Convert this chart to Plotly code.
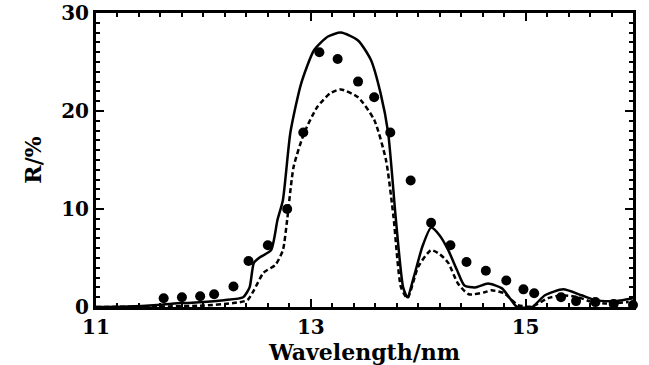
import plotly.graph_objects as go

# Measured points (dots)
dots_x = [11.63, 11.80, 11.97, 12.10, 12.28, 12.42, 12.60, 12.78, 12.93, 13.08, 13.25, 13.44,
          13.59, 13.74, 13.93, 14.12, 14.30, 14.45, 14.63, 14.82, 14.98, 15.08, 15.33, 15.47,
          15.65, 15.82, 16.0]
dots_y = [0.9, 1.0, 1.1, 1.3, 2.1, 4.7, 6.3, 10.0, 17.8, 26.0, 25.3, 23.0,
          21.4, 17.8, 12.9, 8.6, 6.3, 4.6, 3.7, 2.7, 1.8, 1.4, 1.0, 0.6,
          0.5, 0.3, 0.2]

# Solid curve
solid_x = [11.0, 11.3, 11.57, 11.8, 12.0, 12.19, 12.37, 12.43, 12.47, 12.53, 12.63, 12.69,
           12.74, 12.81, 12.91, 13.03, 13.16, 13.28, 13.44, 13.56, 13.65, 13.72, 13.79, 13.86,
           13.90, 13.96, 14.04, 14.12, 14.20, 14.28, 14.36, 14.43, 14.53, 14.65, 14.78, 14.86,
           14.92, 15.06, 15.18, 15.35, 15.52, 15.65, 15.8, 15.9, 16.0]
solid_y = [0.0, 0.05, 0.2, 0.4, 0.5, 0.7, 1.0, 2.0, 4.5, 5.1, 5.8, 8.9,
           10.9, 17.8, 22.8, 26.2, 27.6, 28.0, 27.2, 25.2, 21.8, 17.8, 9.2, 2.0,
           1.0, 3.1, 6.2, 8.1, 7.3, 5.8, 3.8, 2.2, 2.0, 2.4, 1.9, 0.8,
           0.0, 0.0, 1.2, 1.8, 1.2, 0.7, 0.6, 0.7, 0.9]

# Dashed curve
dash_x = [11.0, 11.6, 12.0, 12.28, 12.41, 12.47, 12.56, 12.67, 12.74, 12.78, 12.84, 12.94,
          13.06, 13.18, 13.28, 13.44, 13.59, 13.70, 13.77, 13.84, 13.90, 14.0, 14.12, 14.20,
          14.28, 14.37, 14.47, 14.62, 14.68, 14.80, 14.93, 15.06, 15.21, 15.34, 15.49, 15.62,
          15.75, 15.96]
dash_y = [0.0, 0.05, 0.15, 0.4, 0.7, 1.7, 3.5, 4.3, 5.8, 8.9, 14.3, 17.8,
          20.4, 21.8, 22.2, 21.4, 19.1, 15.0, 9.2, 2.0, 0.9, 4.1, 5.8, 5.4,
          4.5, 2.4, 1.3, 1.5, 1.7, 1.4, 0.2, 0.05, 0.9, 1.2, 1.0, 0.5,
          0.35, 0.5]

x_ticks = [11, 13, 15]
y_ticks = [0, 10, 20, 30]

FONT = "DejaVu Serif"

fig = go.Figure()
fig.add_trace(go.Scatter(x=solid_x, y=solid_y, mode="lines",
                         line=dict(color="black", width=2.5, shape="spline", smoothing=0.6),
                         showlegend=False, hoverinfo="skip"))
fig.add_trace(go.Scatter(x=dash_x, y=dash_y, mode="lines",
                         line=dict(color="black", width=2.5, dash="5px,3px", shape="spline", smoothing=0.6),
                         showlegend=False, hoverinfo="skip"))
fig.add_trace(go.Scatter(x=dots_x, y=dots_y, mode="markers",
                         marker=dict(color="black", size=10, symbol="circle"),
                         cliponaxis=False, showlegend=False))

axis_common = dict(showline=True, linecolor="black", linewidth=3, mirror="allticks",
                   ticks="inside", tickcolor="black", tickwidth=2, ticklen=8,
                   showgrid=False, zeroline=False, automargin=False,
                   tickfont=dict(family=FONT, size=20, color="black"))

fig.update_xaxes(range=[11, 16], tickvals=x_ticks, ticktext=[f"<b>{v}</b>" for v in x_ticks],
                 minor=dict(dtick=0.2, tick0=11, ticks="inside", ticklen=4, tickwidth=1.5, tickcolor="black"),
                 title=dict(text="<b>Wavelength/nm</b>", font=dict(family=FONT, size=22, color="black"), standoff=4),
                 **axis_common)
fig.update_yaxes(range=[0, 30], tickvals=y_ticks, ticktext=[f"<b>{v}</b>" for v in y_ticks],
                 minor=dict(dtick=1, tick0=0, ticks="inside", ticklen=4, tickwidth=1.5, tickcolor="black"),
                 title=dict(text="<b>R/%</b>", font=dict(family=FONT, size=22, color="black"), standoff=14),
                 **axis_common)

fig.update_layout(width=649, height=365, margin=dict(l=96, r=16, t=13, b=58),
                  paper_bgcolor="white", plot_bgcolor="white")

fig.write_html("out.html")
